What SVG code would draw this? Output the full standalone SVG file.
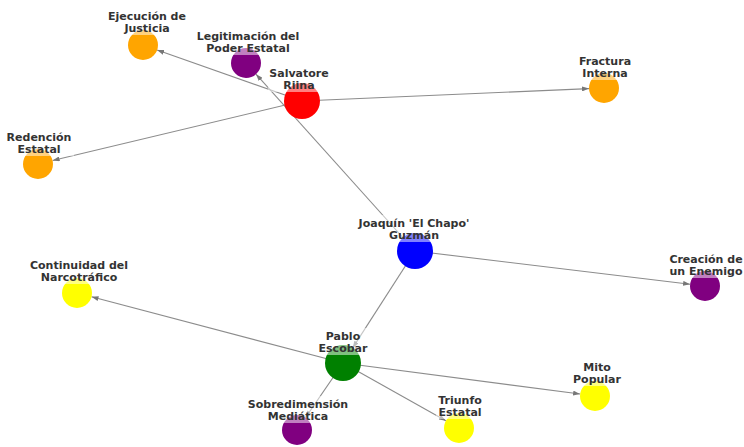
<svg xmlns="http://www.w3.org/2000/svg" width="744" height="447" viewBox="0 0 744 447">
  <style>
    .edge { stroke: #8c8c8c; stroke-width: 1.1; fill: none; }
    .lbl { font-family: "DejaVu Sans", "Liberation Sans", sans-serif; font-weight: bold; font-size: 11px; fill: #333333; text-anchor: middle; }
    .bb { fill: #ffffff; fill-opacity: 0.5; }
  </style>
  <defs>
    <marker id="arr" markerWidth="7" markerHeight="5" refX="7" refY="2.5" orient="auto" markerUnits="userSpaceOnUse">
      <path d="M0,0 L7,2.5 L0,5 z" fill="#777777"/>
    </marker>
  </defs>
  <rect width="744" height="447" fill="#ffffff"/>

  <g id="connectors">
    <line class="edge" x1="302" y1="101" x2="157.1" y2="50" marker-end="url(#arr)"/>
    <line class="edge" x1="415" y1="251" x2="256" y2="74.2" marker-end="url(#arr)"/>
    <line class="edge" x1="302" y1="101" x2="589" y2="88.6" marker-end="url(#arr)"/>
    <line class="edge" x1="302" y1="101" x2="52.6" y2="160.5" marker-end="url(#arr)"/>
    <line class="edge" x1="415" y1="251" x2="690.1" y2="284.2" marker-end="url(#arr)"/>
    <line class="edge" x1="415" y1="251" x2="352.7" y2="347.9" marker-end="url(#arr)"/>
    <line class="edge" x1="343" y1="363" x2="91.5" y2="296.8" marker-end="url(#arr)"/>
    <line class="edge" x1="343" y1="363" x2="580.1" y2="394" marker-end="url(#arr)"/>
    <line class="edge" x1="343" y1="363" x2="445.9" y2="420.7" marker-end="url(#arr)"/>
    <line class="edge" x1="343" y1="363" x2="305.5" y2="417.6" marker-end="url(#arr)"/>
  </g>

  <g id="node-ejecucion"><circle cx="143" cy="45" r="15" fill="#ffa500"/></g>
  <g id="node-legitimacion"><circle cx="246" cy="63" r="15" fill="#800080"/></g>
  <g id="node-riina"><circle cx="302" cy="101" r="18" fill="#ff0000"/></g>
  <g id="node-fractura"><circle cx="604" cy="88" r="15" fill="#ffa500"/></g>
  <g id="node-redencion"><circle cx="38" cy="164" r="15" fill="#ffa500"/></g>
  <g id="node-chapo"><circle cx="415" cy="251" r="18" fill="#0000ff"/></g>
  <g id="node-creacion"><circle cx="705" cy="286" r="15" fill="#800080"/></g>
  <g id="node-continuidad"><circle cx="77" cy="293" r="15" fill="#ffff00"/></g>
  <g id="node-escobar"><circle cx="343" cy="363" r="18" fill="#008000"/></g>
  <g id="node-sobredimension"><circle cx="297" cy="430" r="15" fill="#800080"/></g>
  <g id="node-triunfo"><circle cx="459" cy="428" r="15" fill="#ffff00"/></g>
  <g id="node-mito"><circle cx="595" cy="396" r="15" fill="#ffff00"/></g>

  <g id="labels">
    <g id="label-ejecucion">
      <rect class="bb" x="106" y="8" width="82" height="27"/>
      <text class="lbl" x="147" y="20">Ejecución de</text>
      <text class="lbl" x="147" y="32">Justicia</text>
    </g>
    <g id="label-legitimacion">
      <rect class="bb" x="195" y="28" width="107" height="27"/>
      <text class="lbl" x="248" y="40">Legitimación del</text>
      <text class="lbl" x="248" y="52">Poder Estatal</text>
    </g>
    <g id="label-riina">
      <rect class="bb" x="268" y="65" width="63" height="27"/>
      <text class="lbl" x="299" y="77">Salvatore</text>
      <text class="lbl" x="299" y="89">Riina</text>
    </g>
    <g id="label-fractura">
      <rect class="bb" x="577" y="53" width="57" height="27"/>
      <text class="lbl" x="605" y="65">Fractura</text>
      <text class="lbl" x="605" y="77">Interna</text>
    </g>
    <g id="label-redencion">
      <rect class="bb" x="5" y="129" width="69" height="27"/>
      <text class="lbl" x="39" y="141">Redención</text>
      <text class="lbl" x="39" y="153">Estatal</text>
    </g>
    <g id="label-chapo">
      <rect class="bb" x="357" y="215" width="115" height="27"/>
      <text class="lbl" x="414" y="227">Joaquín 'El Chapo'</text>
      <text class="lbl" x="414" y="239">Guzmán</text>
    </g>
    <g id="label-creacion">
      <rect class="bb" x="668" y="251" width="77" height="27"/>
      <text class="lbl" x="706" y="263">Creación de</text>
      <text class="lbl" x="706" y="275">un Enemigo</text>
    </g>
    <g id="label-continuidad">
      <rect class="bb" x="27" y="257" width="104" height="27"/>
      <text class="lbl" x="79" y="269">Continuidad del</text>
      <text class="lbl" x="79" y="281">Narcotráfico</text>
    </g>
    <g id="label-escobar">
      <rect class="bb" x="317" y="328" width="53" height="27"/>
      <text class="lbl" x="343" y="340">Pablo</text>
      <text class="lbl" x="343" y="352">Escobar</text>
    </g>
    <g id="label-sobredimension">
      <rect class="bb" x="246" y="396" width="104" height="27"/>
      <text class="lbl" x="298" y="408">Sobredimensión</text>
      <text class="lbl" x="298" y="420">Mediática</text>
    </g>
    <g id="label-triunfo">
      <rect class="bb" x="436" y="392" width="49" height="27"/>
      <text class="lbl" x="460" y="404">Triunfo</text>
      <text class="lbl" x="460" y="416">Estatal</text>
    </g>
    <g id="label-mito">
      <rect class="bb" x="571" y="359" width="52" height="27"/>
      <text class="lbl" x="597" y="371">Mito</text>
      <text class="lbl" x="597" y="383">Popular</text>
    </g>
  </g>
</svg>
